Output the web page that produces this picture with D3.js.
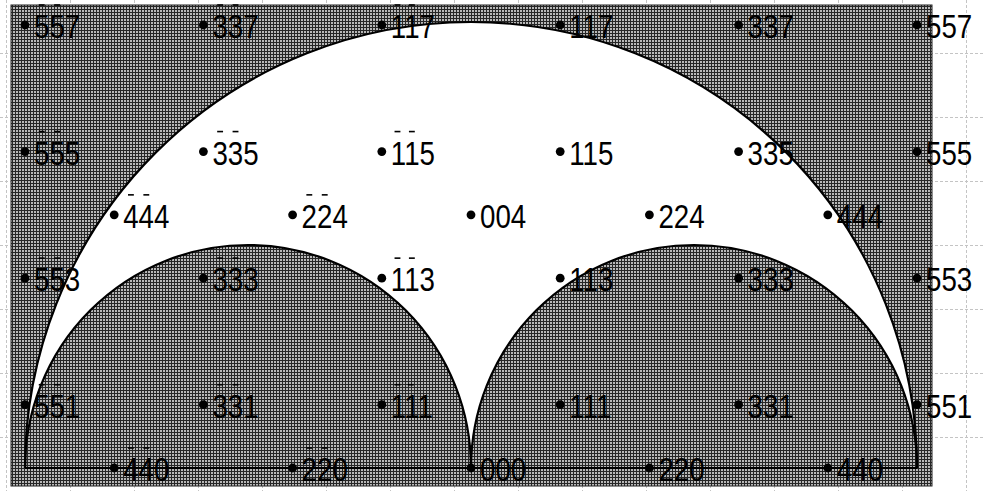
<!DOCTYPE html>
<html>
<head>
<meta charset="utf-8">
<script src="https://cdn.jsdelivr.net/npm/d3@7"></script>
<style>
  html, body { margin: 0; padding: 0; background: #fff; }
  svg { display: block; }
</style>
</head>
<body>
<svg id="chart" width="984" height="491"></svg>
<script>
// Reflections [h h l] plotted by in-plane index h and out-of-plane index l
const oddH = [-5, -3, -1, 1, 3, 5];
const evenH = [-4, -2, 0, 2, 4];
const oddRows = [7, 5, 3, 1];
const evenRows = [4, 0];

// Accessible-region radius (limiting sphere), in units of h
const limitRadius = 5;

const W = 984, H = 491;
const svg = d3.select("#chart");

const x = d3.scaleLinear().domain([-5, 5]).range([25, 917]);
const y = d3.scaleLinear().domain([0, 7]).range([468, 25]);

// Background dashed sheet grid
const gridG = svg.append("g").attr("stroke", "#c4c4c4").attr("stroke-width", 1)
  .attr("stroke-dasharray", "3,2").attr("shape-rendering", "crispEdges");
d3.range(6, W, 64).forEach(gx => gridG.append("line").attr("x1", gx + 0.5).attr("x2", gx + 0.5).attr("y1", 0).attr("y2", H));
d3.range(53, H, 64).forEach(gy => gridG.append("line").attr("x1", 0).attr("x2", W).attr("y1", gy + 0.5).attr("y2", gy + 0.5));

// Halftone fill for the inaccessible regions
const defs = svg.append("defs");
const pat = defs.append("pattern").attr("id", "halftone").attr("patternUnits", "userSpaceOnUse")
  .attr("width", 3).attr("height", 3);
pat.append("rect").attr("width", 3).attr("height", 3).attr("fill", "#262626");
pat.append("rect").attr("x", 1).attr("y", 1).attr("width", 2).attr("height", 2).attr("fill", "#b8b8b8");

const panel = { x0: 11, x1: 932, y0: 5, y1: 486 };
svg.append("rect")
  .attr("x", panel.x0).attr("y", panel.y0)
  .attr("width", panel.x1 - panel.x0).attr("height", panel.y1 - panel.y0)
  .attr("fill", "url(#halftone)").attr("stroke", "#222").attr("stroke-width", 1);

// Semicircle helpers in screen space (centre on the l = 0 line)
function arcPath(hc, rH, closed) {
  const cx = x(hc), cy = y(0), r = x(hc + rH) - x(hc);
  const p = d3.path();
  p.moveTo(cx - r, cy);
  p.arc(cx, cy, r, Math.PI, 2 * Math.PI);
  if (closed) p.closePath();
  return p.toString();
}

// Accessible region: large semicircle minus the two small ones
svg.append("path").attr("d", arcPath(0, limitRadius, true)).attr("fill", "#fff");
[-limitRadius / 2, limitRadius / 2].forEach(hc => {
  svg.append("path").attr("d", arcPath(hc, limitRadius / 2, true)).attr("fill", "url(#halftone)");
});

// Points and labels
const points = [];
oddRows.forEach(l => oddH.forEach(h => points.push({ h, l })));
evenRows.forEach(l => evenH.forEach(h => points.push({ h, l })));

const fs = 33, squeeze = 0.84;
const lg = svg.append("g");
points.forEach(d => {
  const px = x(d.h), py = y(d.l);
  lg.append("circle").attr("cx", px).attr("cy", py).attr("r", 4.4).attr("fill", "#000");
  const a = Math.abs(d.h);
  const g = lg.append("g").attr("transform", `translate(${px + 9},${py + 13}) scale(${squeeze},1)`);
  const t = g.append("text")
    .attr("x", 0).attr("y", 0)
    .attr("font-family", "'Liberation Sans', Arial, Helvetica, sans-serif")
    .attr("font-size", fs).attr("fill", "#000")
    .text(`${a}${a}${d.l}`);
  if (d.h < 0) {
    const node = t.node();
    [0, 1].forEach(i => {
      const ext = node.getExtentOfChar(i);
      const cx = ext.x + ext.width / 2;
      g.append("line")
        .attr("x1", cx - 3.5).attr("x2", cx + 3.5)
        .attr("y1", -33).attr("y2", -33)
        .attr("stroke", "#000").attr("stroke-width", 1.6);
    });
  }
});

// Boundary arcs and base line
const lines = svg.append("g").attr("fill", "none").attr("stroke", "#000").attr("stroke-width", 2.2);
lines.append("path").attr("d", arcPath(0, limitRadius, false));
[-limitRadius / 2, limitRadius / 2].forEach(hc => lines.append("path").attr("d", arcPath(hc, limitRadius / 2, false)));
lines.append("line").attr("x1", x(-limitRadius)).attr("x2", x(limitRadius))
  .attr("y1", y(0)).attr("y2", y(0));
</script>
</body>
</html>
